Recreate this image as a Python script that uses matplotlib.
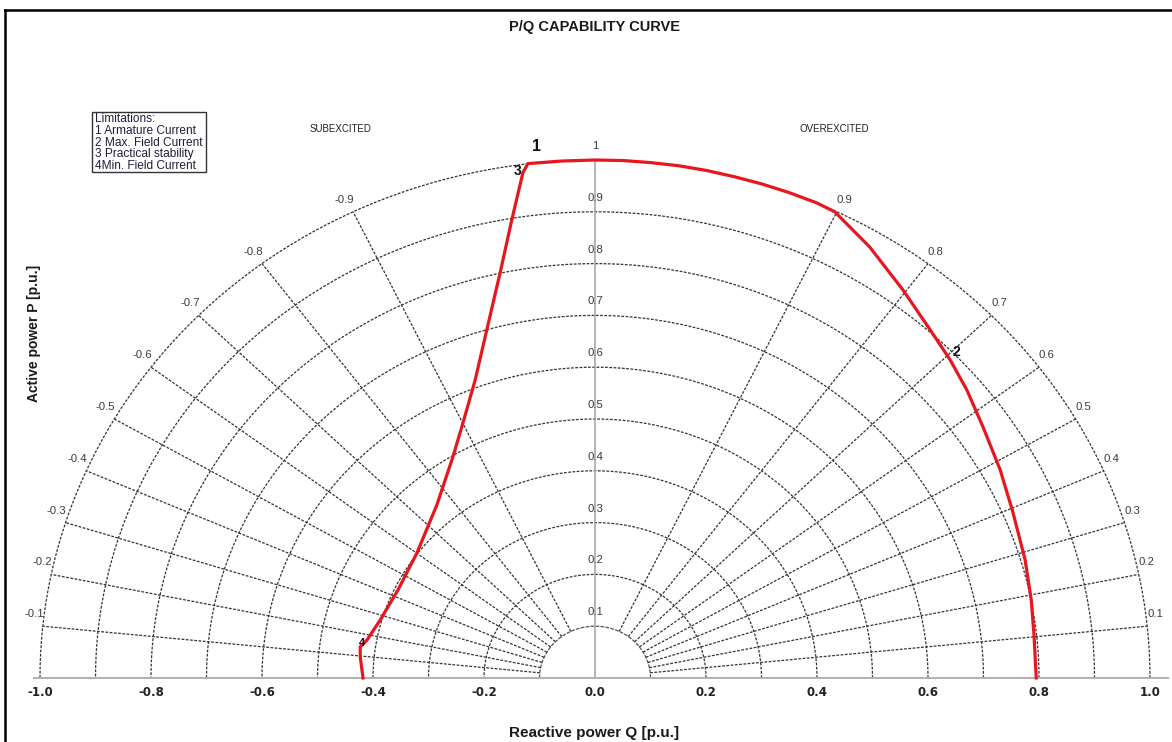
import numpy as np
import matplotlib
matplotlib.use("Agg")
import matplotlib.pyplot as plt
from matplotlib.lines import Line2D
from matplotlib.patches import Rectangle

# capability limit (Q, P in p.u.)
q_limit = [-0.418, -0.423, -0.423, -0.411, -0.387, -0.355, -0.321, -0.285, -0.256,
           -0.238, -0.216, -0.195, -0.171, -0.150, -0.130, -0.121, -0.06, 0.0, 0.05,
           0.10, 0.15, 0.20, 0.25, 0.30, 0.35, 0.40, 0.432, 0.495, 0.555, 0.604,
           0.640, 0.670, 0.699, 0.730, 0.753, 0.775, 0.786, 0.791, 0.795]
p_limit = [0.000, 0.041, 0.060, 0.073, 0.112, 0.170, 0.241, 0.334, 0.427,
           0.492, 0.575, 0.672, 0.782, 0.884, 0.975, 0.993, 0.998, 1.000, 0.999,
           0.995, 0.989, 0.980, 0.968, 0.954, 0.937, 0.917, 0.900, 0.832, 0.749, 0.672,
           0.614, 0.556, 0.485, 0.402, 0.320, 0.228, 0.151, 0.083, 0.000]

radii = [0.2, 0.3, 0.4, 0.5, 0.6, 0.7, 0.8, 0.9, 1.0]
radius_labels = ["0.1", "0.2", "0.3", "0.4", "0.5", "0.6", "0.7", "0.8", "0.9", "1"]
power_factors = [0.1, 0.2, 0.3, 0.4, 0.5, 0.6, 0.7, 0.8, 0.9]
x_ticks = [-1.0, -0.8, -0.6, -0.4, -0.2, 0.0, 0.2, 0.4, 0.6, 0.8, 1.0]
legend_lines = ["Limitations:", "1 Armature Current", "2 Max. Field Current",
                "3 Practical stability", "4Min. Field Current"]

W, H = 1172, 742
fig = plt.figure(figsize=(W / 100, H / 100), dpi=100)

# data -> pixel mapping (origin at 595,678 px)
x0, y0, sx, sy = 595, 678, 555, 518
xl, yl = (-1.03, 1.03), (-0.12, 1.12)
left = (x0 + xl[0] * sx) / W
bottom = (H - y0 + yl[0] * sy) / H
ax = fig.add_axes([left, bottom, (xl[1] - xl[0]) * sx / W, (yl[1] - yl[0]) * sy / H])
ax.set_xlim(xl)
ax.set_ylim(yl)

grid_kw = dict(color="#333333", lw=0.9, ls=(0, (2.2, 1.2)), zorder=1)
th = np.linspace(0, np.pi, 400)

# inner semicircle and arcs
ax.plot(0.1 * np.cos(th), 0.1 * np.sin(th), color="#555555", lw=0.9, ls=(0, (3, 1)), zorder=1)
for r in radii:
    ax.plot(r * np.cos(th), r * np.sin(th), **grid_kw)

# power factor rays
for pf in power_factors:
    phi = np.arccos(pf)
    for s in (1, -1):
        ax.plot([s * 0.1 * np.sin(phi), s * np.sin(phi)], [0.1 * pf, pf], **grid_kw)
        lab = ("%.1f" % pf) if s > 0 else ("-%.1f" % pf)
        ax.annotate(lab, (s * np.sin(phi), pf), xytext=(0 if s > 0 else 1, 12),
                    textcoords="offset pixels", ha="left" if s > 0 else "right",
                    va="center", fontsize=8.2, color="#3c3c3c", family="Liberation Sans")

# vertical axis and radius labels
ax.plot([0, 0], [0, 1.0], color="#a8a8a8", lw=1.2, zorder=1)
for i, lab in enumerate(radius_labels):
    ax.annotate(lab, (0, (i + 1) / 10), xytext=(0, 14), textcoords="offset pixels",
                ha="center", va="center", fontsize=8.2, color="#3c3c3c",
                family="Liberation Sans")

# capability curve
ax.plot(q_limit, p_limit, color="#e8161e", lw=2.3, solid_joinstyle="round", zorder=3)

lab_kw = dict(textcoords="offset pixels", ha="center", va="center", fontweight="bold",
              family="Liberation Sans", color="#111111", zorder=4)
ax.annotate("1", (q_limit[15], p_limit[15]), xytext=(9, 17), fontsize=11.5, **lab_kw)
ax.annotate("3", (q_limit[15], p_limit[15]), xytext=(-10, -7), fontsize=10, **lab_kw)
ax.annotate("2", (q_limit[30], p_limit[30]), xytext=(6, 8), fontsize=10, **lab_kw)
ax.annotate("4", (q_limit[2], p_limit[2]), xytext=(2, 4), fontsize=8, **lab_kw)

# x axis
for sp in ["left", "right", "top"]:
    ax.spines[sp].set_visible(False)
ax.spines["bottom"].set_position(("data", 0))
ax.spines["bottom"].set_bounds(-1.01, 1.032)
ax.spines["bottom"].set_color("#b0b0b0")
ax.spines["bottom"].set_linewidth(1.4)
ax.set_xticks(x_ticks)
ax.set_xticklabels(["%.1f" % v for v in x_ticks])
ax.tick_params(axis="x", length=0, pad=6, labelsize=8.5, labelcolor="#222222")
for t in ax.get_xticklabels():
    t.set_fontweight("bold")
    t.set_family("DejaVu Sans")
ax.set_yticks([])

# texts
fig.text(595 / W, 1 - 27 / H, "P/Q CAPABILITY CURVE", ha="center", va="center",
         fontsize=10.5, fontweight="bold", family="Liberation Sans", color="#1a1a1a")
fig.text(594 / W, 1 - 733 / H, "Reactive power Q [p.u.]", ha="center", va="center",
         fontsize=11, fontweight="bold", family="Liberation Sans", color="#1a1a1a")
fig.text(34 / W, 1 - 333 / H, "Active power P [p.u.]", ha="center", va="center",
         rotation=90, fontsize=10, fontweight="bold", family="Liberation Sans",
         color="#1a1a1a")
fig.text(341 / W, 1 - 129 / H, "SUBEXCITED", ha="center", va="center", fontsize=7,
         family="Liberation Sans", color="#222222")
fig.text(834 / W, 1 - 129 / H, "OVEREXCITED", ha="center", va="center", fontsize=7,
         family="Liberation Sans", color="#222222")

# limitations box
fig.add_artist(Rectangle((92 / W, 1 - 172 / H), 114 / W, 60 / H, transform=fig.transFigure,
                         fill=False, edgecolor="#333333", lw=1.0))
fig.text(95 / W, 1 - 113 / H, "\n".join(legend_lines), ha="left", va="top", fontsize=8.6,
         linespacing=0.98, family="Liberation Sans", color="#1f1f3a")

# outer frame (top and left edges visible)
fig.add_artist(Line2D([5 / W, 1], [1 - 10 / H, 1 - 10 / H], transform=fig.transFigure,
                      color="black", lw=1.8))
fig.add_artist(Line2D([5 / W, 5 / W], [0, 1 - 10 / H], transform=fig.transFigure,
                      color="black", lw=1.8))

fig.savefig("out.png", dpi=100)
